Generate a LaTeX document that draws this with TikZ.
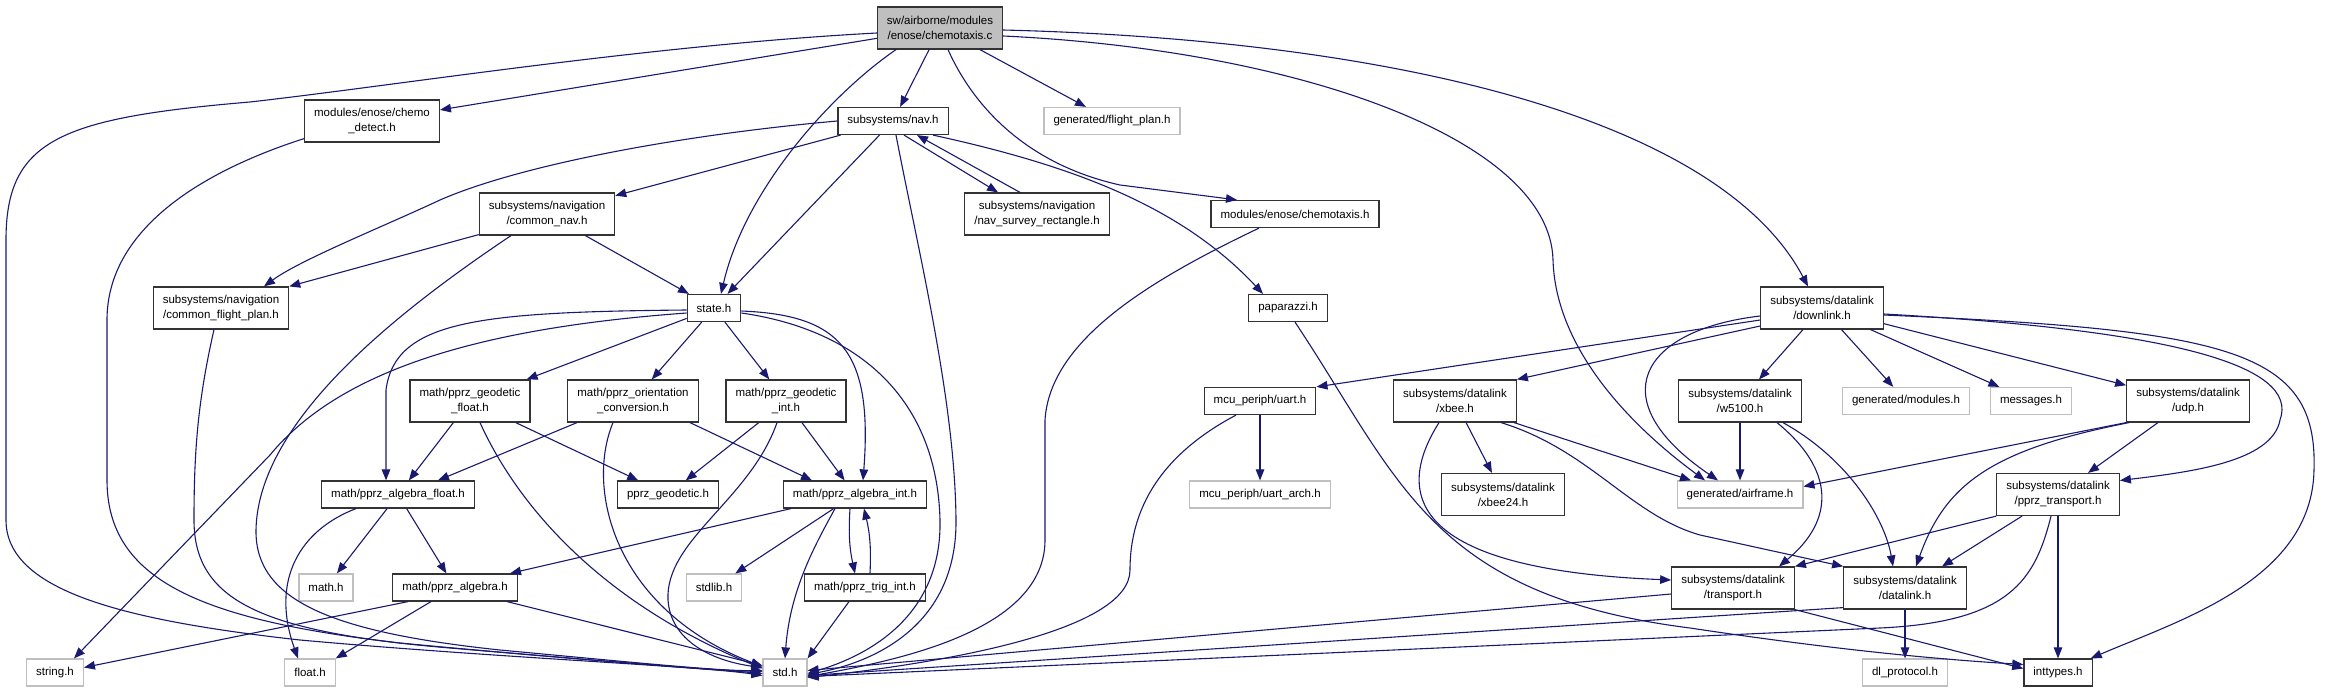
\documentclass[tikz,border=0pt]{standalone}
\usepackage{fontspec}
\setmainfont{Liberation Sans}
\usetikzlibrary{arrows.meta}
\definecolor{edgec}{HTML}{191970}
\definecolor{lgray}{HTML}{BFBFBF}
\begin{document}
\begin{tikzpicture}[x=1pt,y=-1pt,
  box/.style={draw=black!80, line width=1.2pt, fill=white, align=center, inner xsep=9.5pt, inner ysep=2pt,
    font=\fontsize{11.5}{15}\selectfont},
  one/.style={box, minimum height=27pt},
  two/.style={box, minimum height=42pt},
  gone/.style={one, draw=lgray},
  e/.style={draw=edgec, line width=1.1pt, -{Triangle[length=11pt,width=8.5pt]}}]
\useasboundingbox (0,0) rectangle (2339,693);
% nodes
\node[two, fill=lgray] (root) at (940,28) {sw/airborne/modules\\/enose/chemotaxis.c};
\node[two] (chemodetect) at (372,121) {modules/enose/chemo\\\_detect.h};
\node[one] (nav) at (893,121) {subsystems/nav.h};
\node[gone] (flightplan) at (1112,121) {generated/flight\_plan.h};
\node[two] (commonnav) at (547,214) {subsystems/navigation\\/common\_nav.h};
\node[two] (survey) at (1037,214) {subsystems/navigation\\/nav\_survey\_rectangle.h};
\node[one] (chemotaxish) at (1295,214) {modules/enose/chemotaxis.h};
\node[two] (cfp) at (221,308) {subsystems/navigation\\/common\_flight\_plan.h};
\node[one] (state) at (714,308) {state.h};
\node[one] (paparazzi) at (1288,308) {paparazzi.h};
\node[two] (downlink) at (1822,308) {subsystems/datalink\\/downlink.h};
\node[two] (geofloat) at (470,401) {math/pprz\_geodetic\\\_float.h};
\node[two] (orient) at (633,401) {math/pprz\_orientation\\\_conversion.h};
\node[two] (geoint) at (786,401) {math/pprz\_geodetic\\\_int.h};
\node[one] (uart) at (1260,401) {mcu\_periph/uart.h};
\node[two] (xbee) at (1455,401) {subsystems/datalink\\/xbee.h};
\node[two] (w5100) at (1740,401) {subsystems/datalink\\/w5100.h};
\node[gone] (modules) at (1906,401) {generated/modules.h};
\node[gone] (messages) at (2031,401) {messages.h};
\node[two] (udp) at (2188,401) {subsystems/datalink\\/udp.h};
\node[one] (algfloat) at (398,494.5) {math/pprz\_algebra\_float.h};
\node[one] (pprzgeo) at (668,494.5) {pprz\_geodetic.h};
\node[one] (algint) at (855,494.5) {math/pprz\_algebra\_int.h};
\node[gone] (uartarch) at (1260,494.5) {mcu\_periph/uart\_arch.h};
\node[two] (xbee24) at (1503,494.5) {subsystems/datalink\\/xbee24.h};
\node[gone] (airframe) at (1740,494.5) {generated/airframe.h};
\node[two] (pprztrans) at (2058,494.5) {subsystems/datalink\\/pprz\_transport.h};
\node[gone] (math) at (326,587.5) {math.h};
\node[one] (pprzalg) at (455,587.5) {math/pprz\_algebra.h};
\node[gone] (stdlib) at (714,587.5) {stdlib.h};
\node[one] (trig) at (865,587.5) {math/pprz\_trig\_int.h};
\node[two] (transport) at (1733,588) {subsystems/datalink\\/transport.h};
\node[two] (datalink) at (1905,588) {subsystems/datalink\\/datalink.h};
\node[gone] (string) at (55,672.5) {string.h};
\node[gone] (float) at (310,672.5) {float.h};
\node[gone] (std) at (785,672.5) {std.h};
\node[gone] (dlprot) at (1905,672.5) {dl\_protocol.h};
\node[one] (inttypes) at (2058,672.5) {inttypes.h};
% root edges
\draw[e] (root) -- (chemodetect);
\draw[e] (root) -- (nav);
\draw[e] (root) -- (flightplan);
\draw[e] ([xshift=-44pt]root.south) .. controls (830,95) and (745,190) .. ([xshift=7pt]state.north);
\draw[e] ([xshift=8pt]root.south) .. controls (975,110) and (1030,165) .. (1120,185) -- ([xshift=-58pt]chemotaxish.north);
\draw[e] ([yshift=-2pt]root.east) .. controls (1400,40) and (1720,120) .. ([xshift=-14pt]downlink.north);
\draw[e] ([yshift=-8pt]root.east) .. controls (1300,50) and (1550,140) .. (1553,260) .. controls (1556,360) and (1650,440) .. ([xshift=-35pt]airframe.north);
\draw[e] ([yshift=-5pt]root.west) .. controls (650,45) and (400,85) .. (250,102) .. controls (60,118) and (6,140) .. (6,240) -- (6,520) .. controls (6,590) and (120,620) .. (300,640) .. controls (500,658) and (700,666) .. ([yshift=-3pt]std.west);
% chemo_detect
\draw[e] ([yshift=4pt]chemodetect.south west) .. controls (200,172) and (107,230) .. (107,320) -- (107,480) .. controls (107,580) and (200,620) .. (400,643) .. controls (600,662) and (700,668) .. ([yshift=-1pt]std.west);
% nav
\draw[e] (nav.west) .. controls (680,135) and (520,165) .. (440,200) .. controls (380,228) and (300,260) .. ([xshift=43pt]cfp.north);
\draw[e] (nav) -- (commonnav);
\draw[e] (nav) -- (state);
\draw[e] ([xshift=3pt]nav.south) .. controls (918,250) and (955,400) .. (956,520) .. controls (957,625) and (875,662) .. ([yshift=-2pt]std.east);
\draw[e] ([xshift=11pt]nav.south) -- ([xshift=-39pt]survey.north);
\draw[e] ([xshift=-17pt]survey.north) -- ([xshift=24pt]nav.south);
\draw[e] ([xshift=40pt]nav.south) .. controls (1070,165) and (1180,205) .. ([xshift=-25pt]paparazzi.north);
% common_nav
\draw[e] ([yshift=1pt]commonnav.south west) -- (cfp.north east);
\draw[e] (commonnav) -- (state);
\draw[e] ([xshift=-36pt]commonnav.south) .. controls (400,310) and (258,420) .. (256,530) .. controls (255,600) and (330,632) .. (500,650) .. controls (650,664) and (720,671) .. ([yshift=2pt]std.west);
% common_flight_plan
\draw[e] ([xshift=-7pt]cfp.south) .. controls (198,400) and (194,450) .. (194,520) .. controls (194,600) and (260,632) .. (450,648) .. controls (620,662) and (700,670) .. ([yshift=1pt]std.west);
% chemotaxis.h
\draw[e] ([xshift=-36pt]chemotaxish.south) .. controls (1150,280) and (1050,340) .. (1045,420) -- (1045,540) .. controls (1045,630) and (900,660) .. ([yshift=-4pt]std.east);
% state
\draw[e] ([yshift=-2pt]state.west) .. controls (480,312) and (395,320) .. (386,390) -- ([xshift=-12pt]algfloat.north);
\draw[e] ([yshift=-5pt]state.west) .. controls (480,328) and (340,370) .. (270,455) -- ([xshift=19pt]string.north);
\draw[e] (state) -- (geofloat);
\draw[e] (state) -- (orient);
\draw[e] (state) -- (geoint);
\draw[e] ([yshift=-3pt]state.east) .. controls (840,315) and (873,350) .. ([xshift=8pt]algint.north);
\draw[e] ([yshift=-5pt]state.east) .. controls (860,330) and (937,400) .. (940,520) .. controls (942,615) and (870,655) .. ([yshift=-1pt]std.east);
% geodetic float
\draw[e] (geofloat) -- (algfloat);
\draw[e] (geofloat) -- (pprzgeo);
\draw[e] ([xshift=10pt]geofloat.south) .. controls (515,500) and (595,600) .. ([yshift=4pt]std.west);
% orientation
\draw[e] ([xshift=-56pt]orient.south) -- ([xshift=40pt]algfloat.north);
\draw[e] ([xshift=-20pt]orient.south) .. controls (585,490) and (615,610) .. ([yshift=6pt]std.west);
\draw[e] ([xshift=57pt]orient.south) -- ([xshift=-43pt]algint.north);
% geodetic int
\draw[e] (geoint) -- (pprzgeo);
\draw[e] (geoint) -- (algint);
\draw[e] ([xshift=-9pt]geoint.south) .. controls (750,500) and (665,540) .. (668,600) .. controls (671,645) and (720,662) .. ([yshift=5pt]std.west);
% algebra float
\draw[e] (algfloat) -- (math);
\draw[e] (algfloat) -- (pprzalg);
\draw[e] ([xshift=-42pt]algfloat.south) .. controls (300,530) and (270,580) .. ([xshift=-12pt]float.north);
% pprz_algebra
\draw[e] ([xshift=-47pt]pprzalg.south) -- ([yshift=5pt]string.east);
\draw[e] ([xshift=-24pt]pprzalg.south) -- (float.north east);
\draw[e] ([xshift=52pt]pprzalg.south) -- ([yshift=7pt]std.west);
% algebra int
\draw[e] ([xshift=-64pt]algint.south) -- ([xshift=55pt]pprzalg.north);
\draw[e] (algint) -- (stdlib);
\draw[e] ([xshift=-20pt]algint.south) .. controls (815,545) and (790,590) .. (std.north);
\draw[e] ([xshift=-5pt]algint.south) to[bend right=8] ([xshift=-10pt]trig.north);
\draw[e] ([xshift=5pt]trig.north) to[bend right=8] ([xshift=9pt]algint.south);
\draw[e] ([xshift=-16pt]trig.south) -- (std.north east);
% paparazzi
\draw[e] ([xshift=7pt]paparazzi.south) .. controls (1400,480) and (1430,595) .. (1690,628) .. controls (1850,652) and (1950,660) .. ([yshift=8pt]inttypes.west);
% uart
\draw[e] (uart) -- (uartarch);
\draw[e] ([xshift=-24pt]uart.south) .. controls (1170,450) and (1130,500) .. (1130,570) .. controls (1130,630) and (950,662) .. ([yshift=-5pt]std.east);
% downlink
\draw[e] ([yshift=-12pt]downlink.west) -- (uart.north east);
\draw[e] ([yshift=-18pt]downlink.west) -- (xbee.north east);
\draw[e] ([yshift=-8pt]downlink.west) .. controls (1640,330) and (1600,400) .. ([xshift=-22pt]airframe.north);
\draw[e] (downlink) -- (w5100);
\draw[e] (downlink) -- (modules);
\draw[e] (downlink) -- (messages);
\draw[e] (downlink) -- (udp);
\draw[e] ([yshift=-6pt]downlink.east) .. controls (2170,330) and (2300,365) .. (2280,420) .. controls (2272,462) and (2190,472) .. ([yshift=14pt]pprztrans.east);
\draw[e] ([yshift=-7pt]downlink.east) .. controls (2230,330) and (2318,350) .. (2314,470) .. controls (2312,580) and (2180,620) .. ([xshift=-2pt]inttypes.north east);
% xbee
\draw[e] (xbee) -- (xbee24);
\draw[e] ([xshift=59pt]xbee.south) -- ([xshift=-49pt]airframe.north);
\draw[e] ([xshift=46pt]xbee.south) .. controls (1590,450) and (1630,515) .. (1700,535) -- (datalink.north west);
\draw[e] ([xshift=-16pt]xbee.south) .. controls (1390,500) and (1420,570) .. ([yshift=8pt]transport.west);
% w5100
\draw[e] (w5100) -- (airframe);
\draw[e] ([xshift=37pt]w5100.south) .. controls (1835,470) and (1835,520) .. ([xshift=46pt]transport.north);
\draw[e] ([xshift=43pt]w5100.south) .. controls (1850,460) and (1885,520) .. ([xshift=-12pt]datalink.north);
% udp
\draw[e] (udp.south west) -- ([yshift=8pt]airframe.east);
\draw[e] ([xshift=3pt]udp.south west) .. controls (1990,450) and (1945,485) .. ([xshift=11pt]datalink.north);
\draw[e] (udp) -- (pprztrans);
% pprz_transport
\draw[e] (pprztrans.south west) -- (transport.north east);
\draw[e] ([xshift=-36pt]pprztrans.south) -- ([xshift=37pt]datalink.north);
\draw[e] ([xshift=-7pt]pprztrans.south) .. controls (2035,580) and (2010,622) .. (1880,628) -- ([yshift=-4pt]std.east);
\draw[e] (pprztrans) -- (inttypes);
% transport
\draw[e] ([yshift=-6pt]transport.west) -- ([yshift=2pt]std.east);
\draw[e] (transport.south east) -- ([yshift=4pt]inttypes.west);
% datalink
\draw[e] (datalink) -- (dlprot);
\draw[e] ([yshift=2pt]datalink.south west) -- ([yshift=-3pt]std.east);
\end{tikzpicture}
\end{document}
